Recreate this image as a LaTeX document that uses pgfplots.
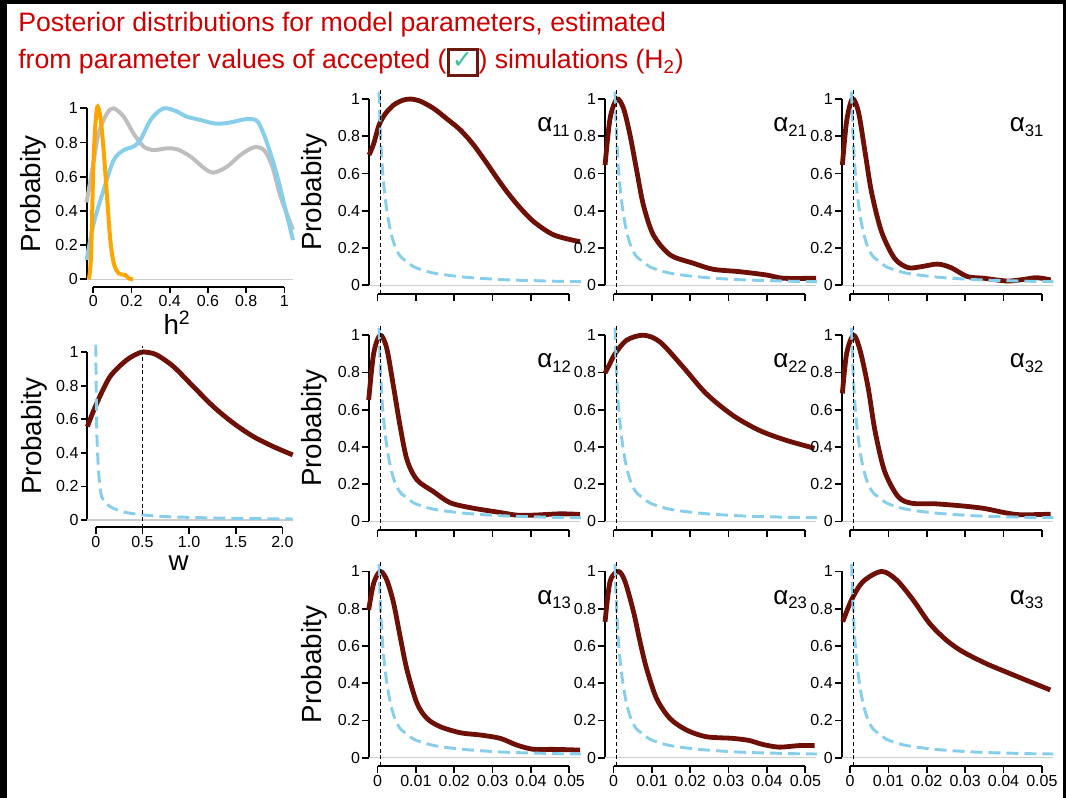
\documentclass[border=0pt]{standalone}
\usepackage{pgfplots}
\pgfplotsset{compat=1.18}
\usepackage{pgfplotstable}
\usepackage{fontspec}
\setmainfont{Liberation Sans}
\newfontfamily\dejavu{DejaVu Sans}

\definecolor{maroonc}{HTML}{6E1005}
\definecolor{skyb}{HTML}{87CEEB}
\definecolor{grayc}{HTML}{BEBEBE}
\definecolor{orng}{HTML}{FFA500}
\definecolor{titlered}{HTML}{CC0000}
\definecolor{boxred}{HTML}{6B1A10}
\definecolor{checkc}{HTML}{3DBFA0}
\definecolor{zerol}{HTML}{CCCCCC}

% prior (light blue dashed) for alpha panels
\pgfplotstableread{
x y
0.0004 1.04
0.0007 0.85
0.0011 0.68
0.0015 0.57
0.002 0.47
0.0026 0.38
0.0033 0.30
0.0042 0.23
0.0052 0.18
0.0062 0.15
0.0078 0.125
0.0094 0.10
0.012 0.08
0.0146 0.066
0.018 0.055
0.0233 0.043
0.028 0.036
0.032 0.031
0.037 0.027
0.041 0.025
0.046 0.022
0.053 0.02
}\prior

\pgfplotstableread{
x y
-0.0022 0.70
-0.001 0.76
0.0004 0.86
0.002 0.92
0.0042 0.968
0.0065 0.993
0.0085 1.0
0.011 0.99
0.0146 0.95
0.018 0.895
0.0216 0.834
0.025 0.755
0.0285 0.655
0.031 0.58
0.0337 0.503
0.037 0.42
0.0407 0.342
0.046 0.27
0.0528 0.234
}\aOO

\pgfplotstableread{
x y
-0.0022 0.646
-0.0009 0.896
0.0009 1.0
0.0026 0.95
0.0043 0.807
0.0061 0.61
0.0078 0.43
0.0104 0.27
0.0148 0.163
0.0209 0.118
0.026 0.086
0.033 0.073
0.04 0.055
0.0443 0.038
0.0528 0.038
}\aTO

\pgfplotstableread{
x y
-0.002 0.646
-0.0009 0.88
0.0006 1.0
0.0022 0.93
0.0039 0.717
0.0056 0.50
0.0082 0.288
0.0116 0.145
0.0151 0.095
0.0185 0.10
0.0228 0.114
0.0263 0.095
0.0306 0.047
0.0349 0.038
0.041 0.023
0.0453 0.032
0.0487 0.041
0.0523 0.029
}\aHO

\pgfplotstableread{
x y
-0.0023 0.652
-0.001 0.902
0.0007 1.0
0.0024 0.93
0.0042 0.72
0.0059 0.51
0.0077 0.33
0.0103 0.223
0.0146 0.16
0.019 0.10
0.025 0.071
0.032 0.048
0.0363 0.034
0.0407 0.034
0.0477 0.041
0.0528 0.0375
}\aOT

\pgfplotstableread{
x y
-0.0022 0.796
-0.001 0.845
0.0004 0.90
0.0034 0.973
0.0078 1.0
0.0121 0.964
0.0181 0.83
0.0241 0.6875
0.031 0.571
0.0379 0.49
0.0448 0.437
0.0524 0.393
}\aTT

\pgfplotstableread{
x y
-0.002 0.6875
-0.0009 0.90
0.0009 1.0
0.0026 0.92
0.0047 0.72
0.0065 0.487
0.009 0.27
0.0125 0.134
0.016 0.098
0.022 0.095
0.0289 0.084
0.0349 0.07
0.0401 0.048
0.0444 0.036
0.0523 0.039
}\aHT

\pgfplotstableread{
x y
-0.0023 0.794
-0.001 0.937
0.0007 1.0
0.0024 0.955
0.0042 0.83
0.0059 0.65
0.0077 0.47
0.0103 0.292
0.0129 0.211
0.0163 0.167
0.0216 0.134
0.0268 0.122
0.032 0.104
0.0363 0.068
0.0407 0.045
0.0459 0.045
0.0528 0.041
}\aOH

\pgfplotstableread{
x y
-0.0022 0.73
-0.0009 0.946
0.0013 1.0
0.003 0.946
0.0052 0.785
0.0069 0.624
0.0086 0.48
0.0112 0.319
0.0147 0.211
0.019 0.149
0.0241 0.113
0.031 0.104
0.0353 0.093
0.0388 0.072
0.0431 0.057
0.0483 0.065
0.0524 0.065
}\aTH

\pgfplotstableread{
x y
-0.0019 0.73
0.0004 0.848
0.0034 0.946
0.0082 1.0
0.0121 0.955
0.0164 0.848
0.0207 0.722
0.025 0.633
0.0293 0.57
0.0353 0.507
0.0405 0.462
0.0457 0.418
0.0522 0.364
}\aHH

% h^2 panel
\pgfplotstableread{
x y
-0.035 0.45
-0.007 0.63
0.028 0.854
0.072 0.97
0.107 1.0
0.16 0.95
0.21 0.854
0.264 0.776
0.316 0.756
0.386 0.766
0.44 0.76
0.51 0.717
0.58 0.65
0.63 0.624
0.70 0.659
0.77 0.727
0.84 0.772
0.893 0.756
0.937 0.659
0.98 0.483
1.045 0.29
}\hgray

\pgfplotstableread{
x y
-0.035 0.113
0.002 0.327
0.054 0.522
0.107 0.698
0.16 0.756
0.21 0.776
0.246 0.815
0.30 0.932
0.35 0.99
0.386 1.0
0.44 0.98
0.49 0.951
0.56 0.932
0.63 0.912
0.685 0.912
0.736 0.922
0.806 0.937
0.86 0.922
0.91 0.795
0.963 0.60
0.998 0.444
1.045 0.23
}\hblue

\pgfplotstableread{
x y
-0.024 0
-0.012 0.133
0.002 0.717
0.019 1.0
0.037 0.95
0.054 0.756
0.072 0.483
0.089 0.23
0.107 0.094
0.133 0.035
0.168 0.025
0.185 0.006
0.208 0
}\horange

% w panel
\pgfplotstableread{
x y
-0.09 0.557
0.011 0.696
0.154 0.855
0.332 0.954
0.475 0.998
0.546 1.0
0.654 0.984
0.832 0.915
1.046 0.795
1.26 0.676
1.475 0.577
1.689 0.497
1.904 0.437
2.11 0.388
}\wpost

\pgfplotstableread{
x y
0.0 1.045
0.005 0.80
0.011 0.537
0.02 0.40
0.029 0.298
0.045 0.20
0.064 0.139
0.1 0.105
0.154 0.08
0.23 0.06
0.332 0.044
0.51 0.03
0.76 0.02
1.118 0.014
1.475 0.01
2.11 0.006
}\wprior

\pgfplotsset{
  rstyle/.style={
    scale only axis, clip=false, anchor=south west,
    axis x line*=bottom, axis y line*=left,
    axis line style={line width=1.6pt, black},
    x axis line style={draw=none},
    ymin=0, ymax=1,
    ytick={0,0.2,0.4,0.6,0.8,1},
    yticklabels={0,0.2,0.4,0.6,0.8,1},
    scaled x ticks=false, scaled y ticks=false,
    tick align=outside,
    major tick length=5pt,
    tick style={line width=1.3pt, black},
    /pgf/number format/assume math mode=true,
    ticklabel style={font=\fontsize{12}{12}\selectfont, inner sep=1.5pt},
    ylabel={Probabity},
    ylabel style={font=\fontsize{20.8}{21}\selectfont, at={(axis description cs:-0.258,0.5)}, anchor=center},
  },
  alphast/.style={
    width=158.25pt, height=139.7pt,
    xmin=-0.0022, xmax=0.0528,
    xtick={0,0.01,0.02,0.03,0.04,0.05},
    axis x line shift=6.4pt,
  },
}

\newcommand{\alphapanel}[5]{%
\begin{axis}[rstyle, alphast, at={(#1,#2)}, #5]
\addplot[zerol, line width=1.1pt] coordinates {(-0.0022,0) (0.0528,0)};
\addplot[maroonc, line width=3.6pt, smooth] table {#3};
\addplot[skyb, line width=2.2pt, dash pattern=on 9pt off 4.5pt, smooth] table {\prior};
\addplot[black, line width=0.75pt, dash pattern=on 3pt off 2pt] coordinates {(0.0008,-0.045) (0.0008,1.05)};
\draw[line width=1.6pt] ([yshift=-6.4pt]axis cs:0,0) -- ([yshift=-6.4pt]axis cs:0.05,0);
\node[anchor=base west, inner sep=0pt, font=\fontsize{19.5}{20}\selectfont] at (axis cs:0.0416,0.825) {α\raisebox{-3.7pt}{\fontsize{12.5}{13}\selectfont #4}};
\end{axis}}

\begin{document}
\begin{tikzpicture}
\path (0pt,0pt) rectangle (801.75pt,598.5pt);
% frame
\fill[black] (0pt,0pt) rectangle (5.5pt,598.5pt);
\fill[black] (0pt,595.5pt) rectangle (799.5pt,598.5pt);
\fill[black] (797pt,0pt) rectangle (799.5pt,598.5pt);
% title
\node[anchor=base west, inner sep=0pt, text=titlered, font=\fontsize{20}{20}\selectfont] at (13.5pt,574.5pt) {Posterior distributions for model parameters, estimated};
\node[anchor=base west, inner sep=0pt, text=titlered, font=\fontsize{20}{20}\selectfont] at (13.5pt,546.75pt) {from parameter values of accepted (\raisebox{-2pt}{\setlength{\fboxrule}{2.2pt}\setlength{\fboxsep}{1.8pt}\fcolorbox{boxred}{white}{\raisebox{2pt}{\textcolor{checkc}{\fontsize{19}{19}\selectfont\dejavu ✓}}}}) simulations (H\textsubscript{2})};

% h^2 panel
\begin{axis}[rstyle, at={(64.95pt,389.0pt)}, width=154.8pt, height=128.25pt,
  xmin=-0.035, xmax=1.045, xtick={0,0.2,0.4,0.6,0.8,1},
  xticklabels={0,0.2,0.4,0.6,0.8,1}, axis x line shift=5.5pt]
\addplot[zerol, line width=1.1pt] coordinates {(-0.035,0) (1.045,0)};
\addplot[grayc, line width=3pt, smooth] table {\hgray};
\addplot[skyb, line width=3pt, smooth] table {\hblue};
\addplot[orng, line width=3pt, smooth] table {\horange};
\draw[line width=1.6pt] ([yshift=-5.5pt]axis cs:0,0) -- ([yshift=-5.5pt]axis cs:1,0);
\end{axis}
\node[anchor=base, inner sep=0pt, font=\fontsize{20.8}{21}\selectfont] at (132.75pt,347.25pt) {h\textsuperscript{2}};

% w panel
\begin{axis}[rstyle, at={(65.5pt,208.5pt)}, width=154.05pt, height=125.8pt,
  xmin=-0.09, xmax=2.11, xtick={0,0.5,1,1.5,2},
  xticklabels={0,0.5,1.0,1.5,2.0}, axis x line shift=5.5pt]
\addplot[zerol, line width=1.1pt] coordinates {(-0.09,0) (2.11,0)};
\addplot[maroonc, line width=3.6pt, smooth] table {\wpost};
\addplot[skyb, line width=2.2pt, dash pattern=on 9pt off 4.5pt, smooth] table {\wprior};
\addplot[black, line width=0.75pt, dash pattern=on 3pt off 2pt] coordinates {(0.5,-0.045) (0.5,1.04)};
\draw[line width=1.6pt] ([yshift=-5.5pt]axis cs:0,0) -- ([yshift=-5.5pt]axis cs:2,0);
\end{axis}
\node[anchor=base, inner sep=0pt, font=\fontsize{20.8}{21}\selectfont] at (134pt,170.5pt) {w};

% alpha panels
\alphapanel{276.8pt}{384.5pt}{\aOO}{11}{xticklabels={}}
\alphapanel{453.8pt}{384.5pt}{\aTO}{21}{xticklabels={}, ylabel={}}
\alphapanel{631.2pt}{384.5pt}{\aHO}{31}{xticklabels={}, ylabel={}}
\alphapanel{276.8pt}{207.4pt}{\aOT}{12}{xticklabels={}}
\alphapanel{453.8pt}{207.4pt}{\aTT}{22}{xticklabels={}, ylabel={}}
\alphapanel{631.2pt}{207.4pt}{\aHT}{32}{xticklabels={}, ylabel={}}
\alphapanel{276.8pt}{30.2pt}{\aOH}{13}{xticklabels={0,0.01,0.02,0.03,0.04,0.05}}
\alphapanel{453.8pt}{30.2pt}{\aTH}{23}{xticklabels={0,0.01,0.02,0.03,0.04,0.05}, ylabel={}}
\alphapanel{631.2pt}{30.2pt}{\aHH}{33}{xticklabels={0,0.01,0.02,0.03,0.04,0.05}, ylabel={}}
\end{tikzpicture}
\end{document}
